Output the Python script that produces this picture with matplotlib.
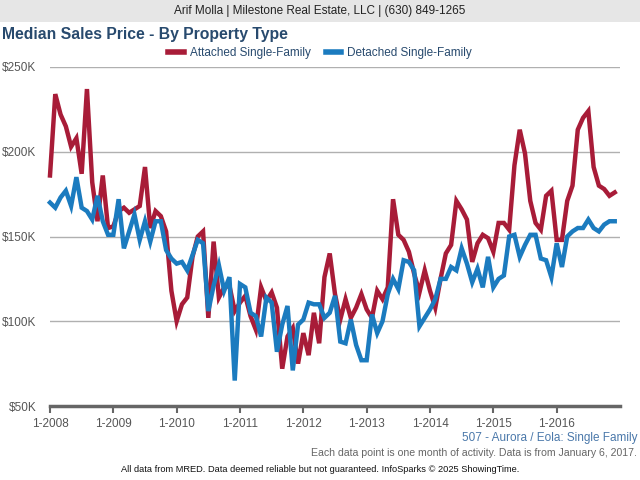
import numpy as np
import matplotlib
matplotlib.use('Agg')
import matplotlib.pyplot as plt
from matplotlib.patches import Rectangle

# Monthly median sales price in $K, 1-2008 .. 12-2016
attached = [186, 234, 222, 215, 203, 208, 187, 237, 182, 159, 186, 155,
            156, 165, 167, 164, 166, 168, 191, 155, 165, 162, 153, 118,
            100, 110, 114, 138, 150, 153, 102, 147, 114, 120, 121, 106,
            111, 115, 103, 95, 120, 112, 117, 108, 72, 91, 96, 75,
            93, 80, 105, 87, 126, 140, 116, 101, 113, 102, 108, 116,
            107, 102, 118, 113, 120, 172, 151, 148, 141, 128, 117, 130,
            118, 108, 125, 140, 145, 171, 166, 160, 135, 146, 151, 149,
            141, 158, 158, 154, 192, 213, 199, 171, 158, 154, 174, 177,
            148, 148, 171, 180, 213, 220, 224, 191, 180, 178, 174, 176]
detached = [170, 167, 173, 177, 168, 185, 167, 165, 160, 174, 159, 151,
            151, 172, 143, 153, 163, 148, 159, 147, 159, 159, 142, 137,
            134, 135, 130, 139, 148, 146, 106, 121, 133, 118, 126, 65,
            122, 120, 105, 103, 91, 114, 111, 82, 98, 109, 71, 98,
            101, 111, 110, 110, 102, 105, 115, 88, 87, 101, 86, 77,
            77, 104, 93, 100, 116, 125, 119, 136, 135, 130, 97, 102,
            107, 113, 125, 125, 132, 130, 143, 134, 123, 131, 120, 138,
            120, 125, 127, 150, 151, 138, 145, 151, 151, 137, 136, 126,
            146, 132, 150, 153, 155, 155, 160, 155, 153, 157, 159, 159]
year_labels = ['1-2008', '1-2009', '1-2010', '1-2011', '1-2012',
               '1-2013', '1-2014', '1-2015', '1-2016']
y_ticks = [50, 100, 150, 200, 250]
y_labels = ['$50K', '$100K', '$150K', '$200K', '$250K']

plt.rcParams['font.family'] = ['Liberation Sans', 'DejaVu Sans']

RED = '#a81c38'
BLUE = '#1b7bbf'
NAVY = '#284a6e'
GRAY = '#555555'

fig = plt.figure(figsize=(6.4, 4.8), dpi=100)
fig.patch.set_facecolor('white')

# top banner
fig.add_artist(Rectangle((0, 1 - 22 / 480), 1, 22 / 480, transform=fig.transFigure,
                         facecolor='#e6e6e6', edgecolor='none'))
fig.text(0.5, 1 - 11 / 480, 'Arif Molla | Milestone Real Estate, LLC | (630) 849-1265',
         ha='center', va='center', fontsize=8.5, color='#222222')
fig.text(2 / 640, 1 - 35 / 480, 'Median Sales Price - By Property Type',
         ha='left', va='center', fontsize=11.3, fontweight='bold', color=NAVY)

ax = fig.add_axes([50 / 640, 74 / 480, 570 / 640, 339 / 480])
months = np.arange(len(attached))
ax.plot(months, attached, color=RED, lw=3.2, label='Attached Single-Family',
        solid_joinstyle='miter', clip_on=False, zorder=3)
ax.plot(months, detached, color=BLUE, lw=3.2, label='Detached Single-Family',
        solid_joinstyle='miter', clip_on=False, zorder=4)

ax.set_xlim(0, 108)
ax.set_ylim(50, 250)
ax.set_yticks(y_ticks)
ax.set_yticklabels(y_labels)
ax.set_xticks(np.arange(0, 108, 12))
ax.set_xticklabels(year_labels)
ax.grid(axis='y', color='#b0b0b0', lw=1)
ax.set_axisbelow(True)
for s in ['top', 'right', 'left']:
    ax.spines[s].set_visible(False)
ax.spines['bottom'].set_color('#666666')
ax.spines['bottom'].set_linewidth(2.5)
ax.spines['bottom'].set_zorder(5)
ax.tick_params(axis='y', length=0, pad=10, labelsize=8.5, labelcolor=GRAY)
ax.tick_params(axis='x', length=5, width=1.5, color='#666666', pad=3.5,
               labelsize=8.5, labelcolor=GRAY)
ax.set_facecolor('none')

leg = fig.legend(loc='center', bbox_to_anchor=(0.5, 1 - 53 / 480), ncol=2, frameon=False,
                 fontsize=8.5, handlelength=1.3, handletextpad=0.5, columnspacing=1.3)
for t in leg.get_texts():
    t.set_color(NAVY)
for h in leg.get_lines():
    h.set_linewidth(4)

fig.text(637 / 640, 1 - 438 / 480, '507 - Aurora / Eola: Single Family',
         ha='right', va='center', fontsize=8.5, color='#4a78aa')
fig.text(637 / 640, 1 - 453 / 480,
         'Each data point is one month of activity. Data is from January 6, 2017.',
         ha='right', va='center', fontsize=7.6, color='#666666')
fig.text(0.5, 1 - 470 / 480,
         'All data from MRED. Data deemed reliable but not guaranteed. InfoSparks \u00a9 2025 ShowingTime.',
         ha='center', va='center', fontsize=6.7, color='#111111')

fig.savefig('out.png', dpi=100)
